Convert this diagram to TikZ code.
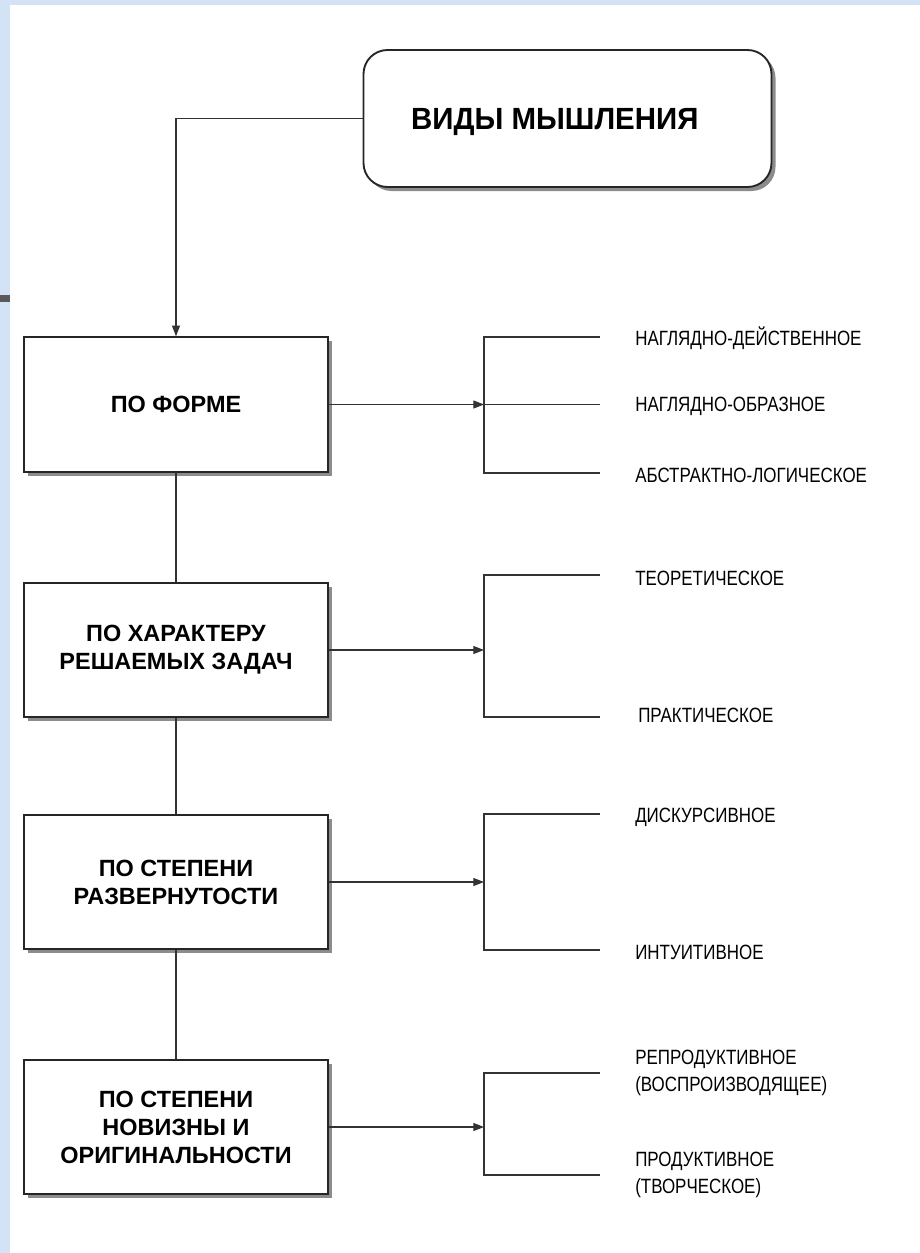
\documentclass[tikz,border=0pt]{standalone}
\usepackage{fontspec}
\setmainfont{Liberation Sans}
\newfontfamily\labfont[FakeStretch=0.82]{Liberation Sans}
\newfontfamily\titlefont[FakeStretch=0.96]{Liberation Sans}
\usetikzlibrary{arrows.meta,shadows}
\definecolor{slide}{HTML}{D3E3F5}
\begin{document}
\begin{tikzpicture}[x=0.75pt,y=-0.75pt,
  catbox/.style={draw=black!85,line width=1.4pt,fill=white,minimum width=228pt,minimum height=101pt,
    align=center,inner sep=0pt,font=\fontsize{17.6}{21}\selectfont\bfseries,
    drop shadow={shadow xshift=3pt,shadow yshift=-3pt,fill=black!45,opacity=1}},
  conn/.style={draw=black!80,line width=0.8pt},
  arr/.style={conn,-{Triangle[length=8pt,width=6pt]}},
  lab/.style={anchor=west,align=left,inner sep=0pt,font=\labfont\fontsize{15.5}{20.25}\selectfont}]
\useasboundingbox (0,0) rectangle (920,1253);
\fill[white] (0,0) rectangle (920,1253);
\fill[slide] (0,0) rectangle (920,5);
\fill[slide] (0,0) rectangle (10,1253);
\fill[black!65] (0,295) rectangle (10,302);

\node[catbox,rounded corners=18pt,minimum width=306pt,minimum height=102.75pt,
  font=\titlefont\bfseries\fontsize{23}{26}\selectfont] (top) at (567.5,118.5) {\raisebox{-8.4pt}[0pt][0pt]{ВИДЫ МЫШЛЕНИЯ}\hspace*{19pt}};
\node[catbox] (f1) at (176,404.5) {ПО ФОРМЕ};
\node[catbox] (f2) at (176,650) {ПО ХАРАКТЕРУ\\РЕШАЕМЫХ ЗАДАЧ};
\node[catbox] (f3) at (176,882) {ПО СТЕПЕНИ\\РАЗВЕРНУТОСТИ};
\node[catbox] (f4) at (176,1127) {ПО СТЕПЕНИ\\НОВИЗНЫ И\\ОРИГИНАЛЬНОСТИ};

\draw[arr] (top.west) -| (f1.north);
\draw[conn] (f1.south) -- (f2.north);
\draw[conn] (f2.south) -- (f3.north);
\draw[conn] (f3.south) -- (f4.north);

% bracket joints
\coordinate (b1) at (484,404.5);
\coordinate (b2) at (484,650);
\coordinate (b3) at (484,882);
\coordinate (b4) at (484,1127);
% bracket ends
\coordinate (e11) at (600,337);
\coordinate (e12) at (600,404.5);
\coordinate (e13) at (600,473);
\coordinate (e21) at (600,575);
\coordinate (e22) at (600,717);
\coordinate (e31) at (600,814);
\coordinate (e32) at (600,950);
\coordinate (e41) at (600,1073);
\coordinate (e42) at (600,1175);

\draw[arr] (f1.east) -- (b1);
\draw[arr] (f2.east) -- (b2);
\draw[arr] (f3.east) -- (b3);
\draw[arr] (f4.east) -- (b4);

\draw[conn] (e11) -| (b1) |- (e13);
\draw[conn] (b1) -- (e12);
\draw[conn] (e21) -| (b2) |- (e22);
\draw[conn] (e31) -| (b3) |- (e32);
\draw[conn] (e41) -| (b4) |- (e42);

\node[lab] (l11) at (635,338) {НАГЛЯДНО-ДЕЙСТВЕННОЕ};
\node[lab] (l12) at (635,406) {НАГЛЯДНО-ОБРАЗНОЕ};
\node[lab] (l13) at (635,475) {АБСТРАКТНО-ЛОГИЧЕСКОЕ};
\node[lab] (l21) at (635,578) {ТЕОРЕТИЧЕСКОЕ};
\node[lab] (l22) at (638,715) {ПРАКТИЧЕСКОЕ};
\node[lab] (l31) at (635,817) {ДИСКУРСИВНОЕ};
\node[lab] (l32) at (635,952) {ИНТУИТИВНОЕ};
\node[lab] (l41) at (635,1073) {РЕПРОДУКТИВНОЕ\\(ВОСПРОИЗВОДЯЩЕЕ)};
\node[lab] (l42) at (635,1175) {ПРОДУКТИВНОЕ\\(ТВОРЧЕСКОЕ)};
\end{tikzpicture}
\end{document}
